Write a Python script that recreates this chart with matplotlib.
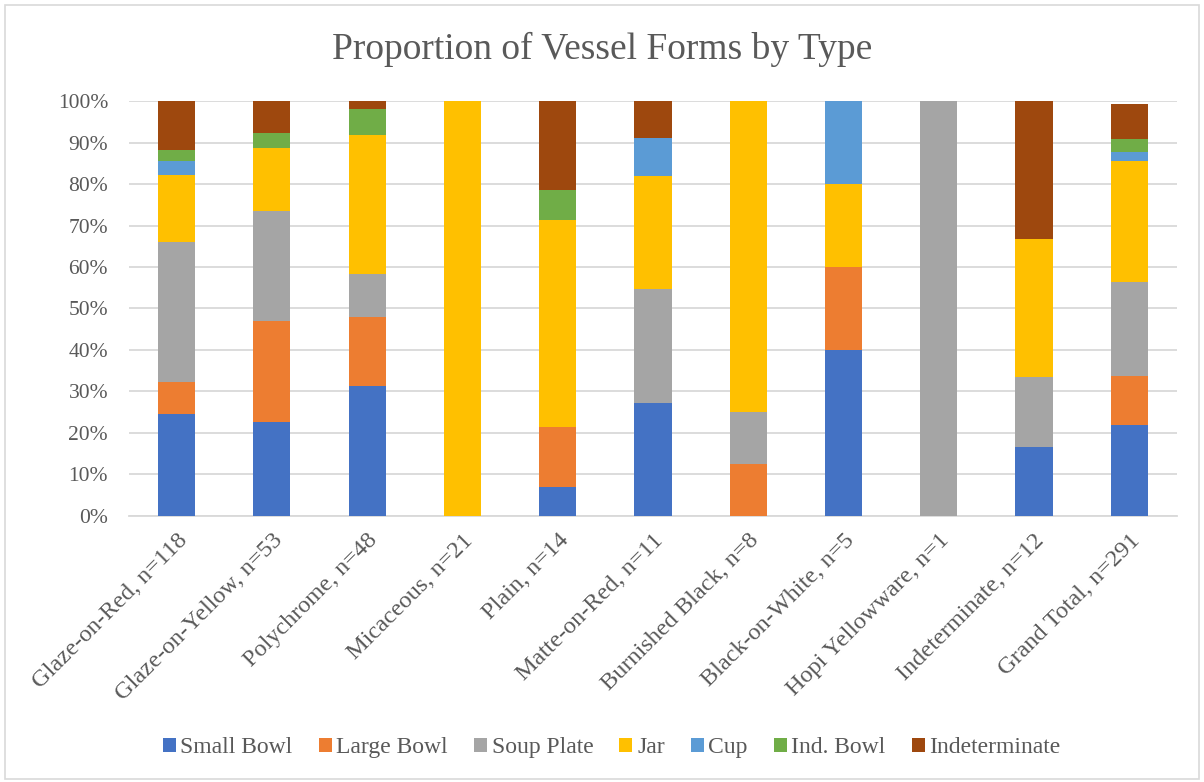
import matplotlib
matplotlib.use("Agg")
import matplotlib.pyplot as plt
from matplotlib.patches import Rectangle
from matplotlib.ticker import PercentFormatter
import numpy as np

plt.rcParams["font.family"] = ["Liberation Serif", "DejaVu Serif"]

categories = [
    "Glaze-on-Red, n=118", "Glaze-on-Yellow, n=53", "Polychrome, n=48",
    "Micaceous, n=21", "Plain, n=14", "Matte-on-Red, n=11",
    "Burnished Black, n=8", "Black-on-White, n=5", "Hopi Yellowware, n=1",
    "Indeterminate, n=12", "Grand Total, n=291",
]

# percentages per vessel form, one value per category
small_bowl = [24.6, 22.6, 31.3, 0, 7.1, 27.3, 0, 40.0, 0, 16.7, 22.0]
large_bowl = [7.6, 24.5, 16.7, 0, 14.3, 0, 12.5, 20.0, 0, 0, 11.7]
soup_plate = [33.9, 26.4, 10.4, 0, 0, 27.3, 12.5, 0, 100.0, 16.7, 22.7]
jar = [16.1, 15.1, 33.3, 100.0, 50.0, 27.3, 75.0, 20.0, 0, 33.3, 29.2]
cup = [3.4, 0, 0, 0, 0, 9.1, 0, 20.0, 0, 0, 2.1]
ind_bowl = [2.5, 3.8, 6.3, 0, 7.1, 0, 0, 0, 0, 0, 3.1]
indeterminate = [11.9, 7.5, 2.1, 0, 21.4, 9.1, 0, 0, 0, 33.3, 8.5]

series = [
    ("Small Bowl", small_bowl, "#4472c4"),
    ("Large Bowl", large_bowl, "#ed7d31"),
    ("Soup Plate", soup_plate, "#a5a5a5"),
    ("Jar", jar, "#ffc000"),
    ("Cup", cup, "#5b9bd5"),
    ("Ind. Bowl", ind_bowl, "#70ad47"),
    ("Indeterminate", indeterminate, "#9e480e"),
]

TEXT = "#595959"
GRID = "#d9d9d9"

fig = plt.figure(figsize=(12.04, 7.82), dpi=100)
ax = fig.add_axes([0.1071, 0.3402, 0.8704, 0.5306])

x = np.arange(len(categories))
bottom = np.zeros(len(categories))
for name, vals, color in series:
    vals = np.array(vals, dtype=float)
    ax.bar(x, vals, 0.39, bottom=bottom, color=color, label=name, zorder=3)
    bottom += vals

ax.set_xlim(-0.5, len(categories) - 0.5)
ax.set_ylim(0, 100)
ax.set_yticks(np.arange(0, 101, 10))
ax.yaxis.set_major_formatter(PercentFormatter(decimals=0))
ax.grid(axis="y", color=GRID, linewidth=1.3, zorder=0)
for side in ["top", "right", "left"]:
    ax.spines[side].set_visible(False)
ax.spines["bottom"].set_color(GRID)
ax.spines["bottom"].set_linewidth(1.3)
ax.tick_params(axis="y", length=0, labelsize=15.5, colors=TEXT, pad=15)
ax.set_xticks(x)
ax.set_xticklabels(categories, rotation=45, ha="right", rotation_mode="anchor")
ax.tick_params(axis="x", length=0, pad=10, labelsize=17.5, colors=TEXT)

fig.text(0.5, 0.937, "Proportion of Vessel Forms by Type", ha="center", va="center",
         fontsize=27, color=TEXT)

leg = fig.legend(loc="center", bbox_to_anchor=(0.508, 0.044), ncol=7, frameon=False,
                 fontsize=17, handlelength=0.55, handleheight=0.55, handletextpad=0.2,
                 columnspacing=1.1, labelcolor=TEXT)

fig.patches.append(Rectangle((0.004, 0.004), 0.992, 0.99, transform=fig.transFigure,
                             fill=False, edgecolor=GRID, linewidth=1.2))

fig.savefig("out.png", dpi=100, facecolor="white")
